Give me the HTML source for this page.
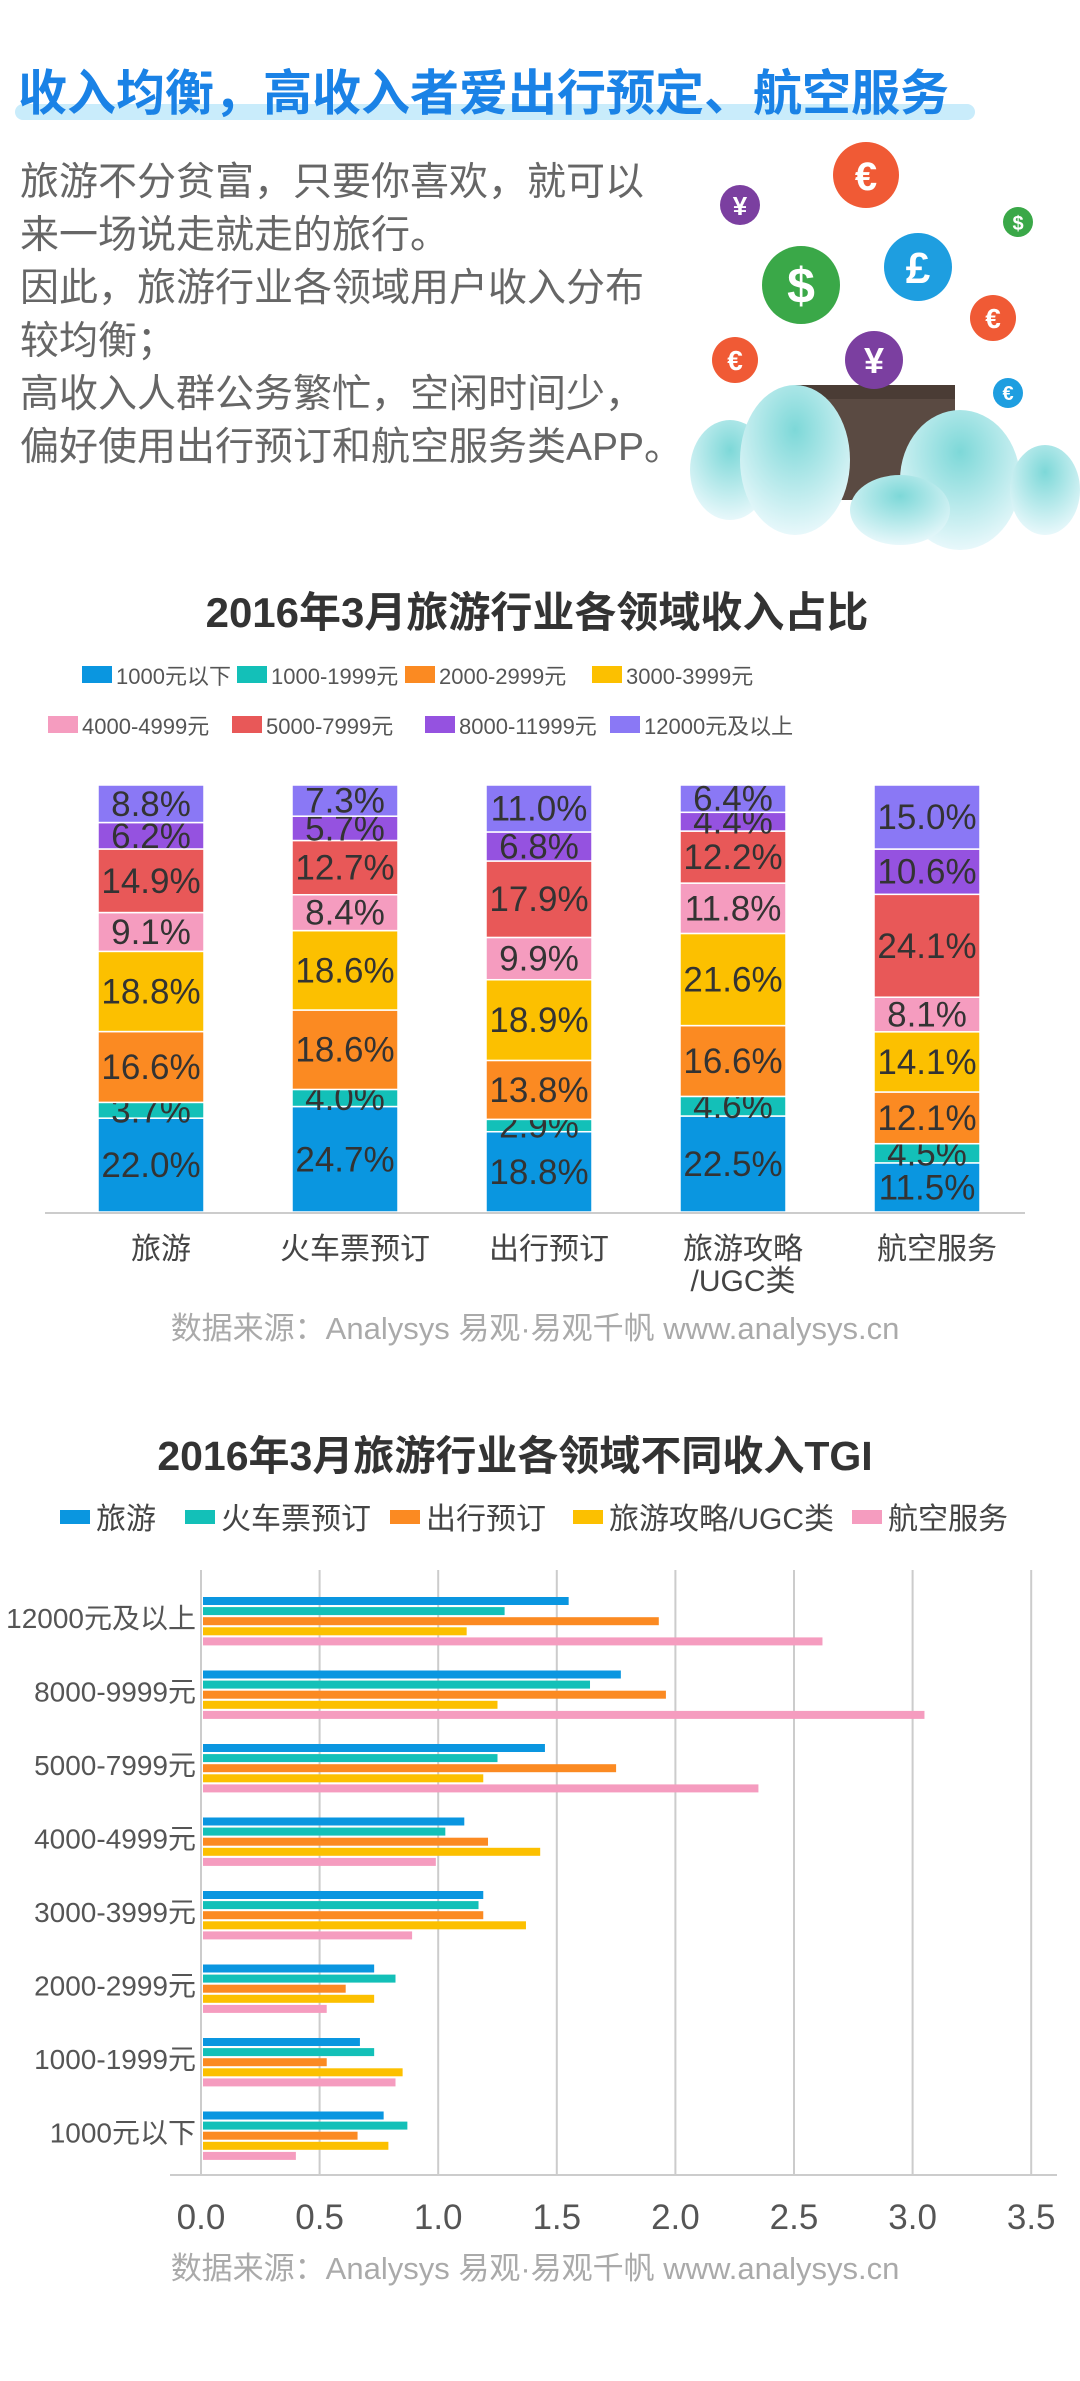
<!DOCTYPE html>
<html><head><meta charset="utf-8">
<style>
body{margin:0;width:1080px;height:2381px;background:#fff;overflow:hidden;font-family:"Liberation Sans","Noto Sans CJK SC",sans-serif;}
svg{display:block}
</style></head>
<body>
<svg id="s" width="1080" height="2381" viewBox="0 0 1080 2381" font-family="Liberation Sans, Noto Sans CJK SC, sans-serif">
  <rect x="15" y="104" width="960" height="16" rx="8" fill="#c9ecfb"/>
  <text x="18" y="110" font-size="49" font-weight="bold" fill="#1a82e6">收入均衡，高收入者爱出行预定、航空服务</text>
  <g font-size="39" fill="#666">
    <text x="20" y="195">旅游不分贫富，只要你喜欢，就可以</text>
    <text x="20" y="248">来一场说走就走的旅行。</text>
    <text x="20" y="301">因此，旅游行业各领域用户收入分布</text>
    <text x="20" y="354">较均衡；</text>
    <text x="20" y="407">高收入人群公务繁忙，空闲时间少，</text>
    <text x="20" y="460">偏好使用出行预订和航空服务类APP。</text>
  </g>
  <g>
    <rect x="795" y="385" width="160" height="115" rx="6" fill="#5a4a42"/>
    <rect x="795" y="385" width="160" height="14" fill="#4a3c35"/>
    <defs><radialGradient id="cl" cx="50%" cy="30%" r="70%"><stop offset="0" stop-color="#7dd8d8"/><stop offset="1" stop-color="#e8f8fb"/></radialGradient></defs>
    <ellipse cx="730" cy="470" rx="40" ry="50" fill="url(#cl)"/>
    <ellipse cx="795" cy="460" rx="55" ry="75" fill="url(#cl)"/>
    <ellipse cx="960" cy="480" rx="60" ry="70" fill="url(#cl)"/>
    <ellipse cx="1045" cy="490" rx="35" ry="45" fill="url(#cl)"/>
    <ellipse cx="900" cy="510" rx="50" ry="35" fill="url(#cl)"/>
    <g font-weight="bold" fill="#fff" text-anchor="middle">
      <circle cx="866" cy="175" r="33" fill="#f05a35"/><text x="866" y="190" font-size="40">€</text>
      <circle cx="740" cy="205" r="20" fill="#7b3fa0"/><text x="740" y="215" font-size="26">¥</text>
      <circle cx="1018" cy="222" r="15" fill="#3aa848"/><text x="1018" y="230" font-size="20">$</text>
      <circle cx="801" cy="285" r="39" fill="#3aa848"/><text x="801" y="303" font-size="50">$</text>
      <circle cx="918" cy="267" r="34" fill="#1e9ee0"/><text x="918" y="283" font-size="44">£</text>
      <circle cx="993" cy="318" r="23" fill="#f05a35"/><text x="993" y="328" font-size="28">€</text>
      <circle cx="735" cy="360" r="23" fill="#f05a35"/><text x="735" y="370" font-size="28">€</text>
      <circle cx="874" cy="360" r="29" fill="#7b3fa0"/><text x="874" y="373" font-size="36">¥</text>
      <circle cx="1008" cy="393" r="15" fill="#1e9ee0"/><text x="1008" y="400" font-size="20">€</text>
    </g>
  </g>

  <text x="537" y="627" text-anchor="middle" font-size="42" font-weight="bold" fill="#333">2016年3月旅游行业各领域收入占比</text>
  <g id="leg1"></g>
  <g id="c1"></g>
  <text x="535" y="1339" text-anchor="middle" font-size="31" fill="#aaa">数据来源：Analysys 易观·易观千帆 www.analysys.cn</text>

  <text x="515" y="1470" text-anchor="middle" font-size="41" font-weight="bold" fill="#333">2016年3月旅游行业各领域不同收入TGI</text>
  <g id="leg2"></g>
  <g id="c2"></g>
  <text x="535" y="2279" text-anchor="middle" font-size="31" fill="#aaa">数据来源：Analysys 易观·易观千帆 www.analysys.cn</text>
</svg>
<script>
const segNames = ["1000元以下","1000-1999元","2000-2999元","3000-3999元","4000-4999元","5000-7999元","8000-11999元","12000元及以上"];
const segColors = ["#0a96e0","#13c0b8","#fb8a22","#fcc000","#f59cbf","#e85858","#9552e0","#8a78f5"];
const cats1 = ["旅游","火车票预订","出行预订","旅游攻略\n/UGC类","航空服务"];
const s1 = [22.0,24.7,18.8,22.5,11.5];
const s2 = [3.7,4.0,2.9,4.6,4.5];
const s3 = [16.6,18.6,13.8,16.6,12.1];
const s4 = [18.8,18.6,18.9,21.6,14.1];
const s5 = [9.1,8.4,9.9,11.8,8.1];
const s6 = [14.9,12.7,17.9,12.2,24.1];
const s7 = [6.2,5.7,6.8,4.4,10.6];
const s8 = [8.8,7.3,11.0,6.4,15.0];

const tgiCats = ["12000元及以上","8000-9999元","5000-7999元","4000-4999元","3000-3999元","2000-2999元","1000-1999元","1000元以下"];
const tgiSeries = ["旅游","火车票预订","出行预订","旅游攻略/UGC类","航空服务"];
const tgiColors = ["#0a96e0","#13c0b8","#fb8a22","#fcc000","#f59cbf"];
const tgiTravel = [1.55,1.77,1.45,1.11,1.19,0.73,0.67,0.77];
const tgiTrain = [1.28,1.64,1.25,1.03,1.17,0.82,0.73,0.87];
const tgiTrip = [1.93,1.96,1.75,1.21,1.19,0.61,0.53,0.66];
const tgiUGC = [1.12,1.25,1.19,1.43,1.37,0.73,0.85,0.79];
const tgiAir = [2.62,3.05,2.35,0.99,0.89,0.53,0.82,0.40];
const xTicks = ["0.0","0.5","1.0","1.5","2.0","2.5","3.0","3.5"];

const NS="http://www.w3.org/2000/svg";
function mk(tag,attrs,parent,txt){const e=document.createElementNS(NS,tag);for(const k in attrs)e.setAttribute(k,attrs[k]);if(txt!==undefined)e.textContent=txt;parent.appendChild(e);return e;}

// legend 1
const leg1=document.getElementById('leg1');
const legPos=[[82,675],[237,675],[405,675],[592,675],[48,725],[232,725],[425,725],[610,725]];
segNames.forEach((n,i)=>{
  const g=mk('g',{},leg1);
  
  
  mk('rect',{x:legPos[i][0],y:legPos[i][1]-9,width:30,height:17,fill:segColors[i]},g);
  mk('text',{x:legPos[i][0]+34,y:legPos[i][1]+9,'font-size':22,fill:'#555'},g,n);
});

// chart 1
const c1=document.getElementById('c1');
const base=1212, top1=785, yScale=v=>(base-top1)*v/100;
const barX=i=>98+i*194, bw=106;
const segs=[s1,s2,s3,s4,s5,s6,s7,s8];
cats1.forEach((c,i)=>{
  const tot=segs.reduce((a,s)=>a+s[i],0);
  let y=base;
  segs.forEach((s,j)=>{
    const h=yScale(s[i]*100/tot);
    const r=mk('rect',{x:barX(i),y:y-h,width:bw,height:h,fill:segColors[j],stroke:'#fff','stroke-width':1.5},c1);
    
    
    const t=mk('text',{x:barX(i)+bw/2,y:y-h/2+12,'text-anchor':'middle','font-size':35,fill:'#333'},c1,s[i].toFixed(1)+'%');
    
    
    y-=h;
  });
  const lines=c.split('\n');
  lines.forEach((ln,k)=>{
    const t=mk('text',{x:barX(i)+bw/2+10,y:1259+k*32,'text-anchor':'middle','font-size':30,fill:'#444'},c1,ln);
    
    
  });
});
const ax1=mk('line',{x1:45,x2:1025,y1:1213,y2:1213,stroke:'#ccc','stroke-width':2},c1);



// legend 2
const leg2=document.getElementById('leg2');
const leg2X=[60,185,390,573,852];
tgiSeries.forEach((n,i)=>{
  const g=mk('g',{},leg2);
  
  
  mk('rect',{x:leg2X[i],y:1510,width:30,height:14,fill:tgiColors[i]},g);
  mk('text',{x:leg2X[i]+36,y:1529,'font-size':30,fill:'#444'},g,n);
});

// chart 2
const c2=document.getElementById('c2');
const x0=201, unit=237.2, xs=v=>x0+v*unit;
xTicks.forEach(t=>{
  const v=parseFloat(t);
  const gl=mk('line',{x1:xs(v),x2:xs(v),y1:1570,y2:2175,stroke:'#ccc','stroke-width':2},c2);
  
  
  const tl=mk('text',{x:xs(v),y:2229,'text-anchor':'middle','font-size':35,fill:'#555'},c2,t);
  
  
});
const ax2=mk('line',{x1:170,x2:1057,y1:2175,y2:2175,stroke:'#ccc','stroke-width':2},c2);


const tgiData=[tgiTravel,tgiTrain,tgiTrip,tgiUGC,tgiAir];
tgiCats.forEach((c,i)=>{
  const gy=1597+i*73.5;
  tgiData.forEach((arr,j)=>{
    const r=mk('rect',{x:x0+2,y:gy+j*10.1,width:xs(arr[i])-x0-2,height:8,fill:tgiColors[j]},c2);
    
    
  });
  const t=mk('text',{x:196,y:gy+31,'text-anchor':'end','font-size':28,fill:'#555'},c2,c);
  
  
});
</script>
</body></html>
